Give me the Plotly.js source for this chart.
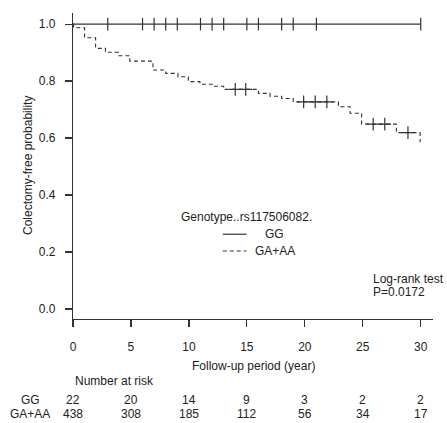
<!DOCTYPE html>
<html>
<head>
<meta charset="utf-8">
<script src="https://cdn.plot.ly/plotly-3.0.1.min.js"></script>
<style>html,body{margin:0;padding:0;background:#fff;}#chart{width:447px;height:423px;}</style>
</head>
<body>
<div id="chart"></div>
<script>
// GG group: survival stays at 1.0
const ggTimes = [0, 30];
const ggSurv = [1.0, 1.0];
const ggCensor = [3, 6, 7, 8, 9, 11, 12, 13, 15, 16, 18, 19, 21, 30];

// GA+AA group: step survival curve
const gaTimes = [0, 0.05, 1.0, 1.95, 2.8, 3.9, 4.9, 6.9, 8.0, 9.05, 9.95, 10.95, 12.1, 13.0, 16.0, 17.0, 18.0, 19.0, 22.9, 23.9, 24.9, 27.9, 29.95, 30.0];
const gaSurv  = [1.0, 0.987, 0.952, 0.915, 0.901, 0.889, 0.870, 0.839, 0.827, 0.815, 0.798, 0.789, 0.782, 0.771, 0.757, 0.747, 0.739, 0.727, 0.710, 0.687, 0.649, 0.619, 0.587, 0.587];
const gaCensor = [14.0, 14.9, 19.9, 20.9, 21.9, 25.9, 26.9, 28.9];

// Number at risk table
const riskTimes = [0, 5, 10, 15, 20, 25, 30];
const riskGG = [22, 20, 14, 9, 3, 2, 2];
const riskGA = [438, 308, 185, 112, 56, 34, 17];
const groupNames = ["GG", "GA+AA"];

const xTicks = [0, 5, 10, 15, 20, 25, 30];
const yTicks = [0, 0.2, 0.4, 0.6, 0.8, 1.0];

function survAt(times, surv, t) {
  let s = surv[0];
  for (let i = 0; i < times.length; i++) { if (times[i] <= t) s = surv[i]; }
  return s;
}

const LINE = '#333333';
const TXT = '#222222';
const FONT = 'Liberation Sans, Arial, sans-serif';

const traces = [
  {x: ggTimes, y: ggSurv, mode: 'lines', line: {shape: 'hv', color: LINE, width: 1.2}, hoverinfo: 'skip'},
  {x: ggCensor, y: ggCensor.map(t => survAt(ggTimes, ggSurv, t)), mode: 'markers',
   marker: {symbol: 'line-ns-open', size: 9, color: LINE, line: {color: LINE, width: 1.2}}, hoverinfo: 'skip'},
  {x: gaTimes, y: gaSurv, mode: 'lines', line: {shape: 'hv', color: LINE, width: 1.1, dash: '4px,3px'}, hoverinfo: 'skip'},
  {x: gaCensor, y: gaCensor.map(t => survAt(gaTimes, gaSurv, t)), mode: 'markers',
   marker: {symbol: 'cross-thin-open', size: 9, color: LINE, line: {color: LINE, width: 1.2}}, hoverinfo: 'skip'}
];

const ann = [];
function txt(x, y, text, opts) {
  ann.push(Object.assign({x: x, y: y, text: text, showarrow: false, xref: 'paper', yref: 'paper',
    xanchor: 'center', yanchor: 'middle', font: {family: FONT, size: 12, color: TXT}}, opts || {}));
}
txt(0.483, 0.334, 'Genotype..rs117506082.');
txt(0.560, 0.277, groupNames[0]);
txt(0.560, 0.222, groupNames[1]);
txt(0.828, 0.131, 'Log-rank test', {xanchor: 'left'});
txt(0.828, 0.087, 'P=0.0172', {xanchor: 'left'});
txt(0.5, -0.153, 'Follow-up period (year)');
txt(-0.125, 0.5, 'Colectomy-free probability', {textangle: -90});
txt(0, -0.203, 'Number at risk', {xref: 'x', xanchor: 'left'});
const rowGG = -0.265, rowGA = -0.310;
txt(-0.119, rowGG, groupNames[0]);
txt(-0.119, rowGA, groupNames[1]);
riskTimes.forEach((t, i) => {
  txt(t, rowGG, String(riskGG[i]), {xref: 'x'});
  txt(t, rowGA, String(riskGA[i]), {xref: 'x'});
});

const shapes = [
  {type: 'line', xref: 'paper', yref: 'paper', x0: 0.416, x1: 0.482, y0: 0.277, y1: 0.277, line: {color: LINE, width: 1.2}},
  {type: 'line', xref: 'paper', yref: 'paper', x0: 0.416, x1: 0.482, y0: 0.222, y1: 0.222, line: {color: LINE, width: 1.1, dash: '4px,3px'}}
];

const layout = {
  width: 447, height: 423,
  margin: {l: 73, r: 14, t: 13, b: 104},
  paper_bgcolor: '#ffffff', plot_bgcolor: '#ffffff',
  showlegend: false,
  font: {family: FONT, size: 12, color: TXT},
  xaxis: {range: [0, 31.06], tickvals: xTicks, ticktext: xTicks.map(String), ticks: 'outside', ticklen: 7,
    tickcolor: LINE, tickwidth: 1.2, showline: true, linecolor: LINE, linewidth: 1.2, showgrid: false, zeroline: false,
    ticklabelstandoff: 9, tickfont: {family: FONT, size: 12, color: TXT}, fixedrange: true},
  yaxis: {range: [-0.035, 1.039], tickvals: yTicks, ticktext: yTicks.map(v => v.toFixed(1)), ticks: 'outside', ticklen: 7,
    tickcolor: LINE, tickwidth: 1.2, showline: true, linecolor: LINE, linewidth: 1.2, showgrid: false, zeroline: false,
    ticklabelstandoff: 7, tickfont: {family: FONT, size: 12, color: TXT}, fixedrange: true},
  annotations: ann,
  shapes: shapes
};

Plotly.newPlot('chart', traces, layout, {displayModeBar: false, staticPlot: true});
</script>
</body>
</html>
